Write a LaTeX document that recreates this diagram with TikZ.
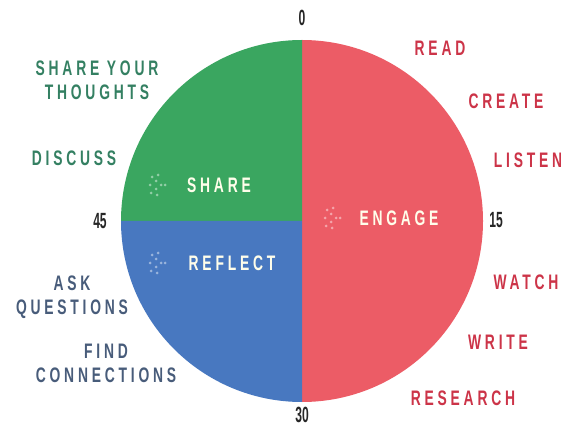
\documentclass[tikz,border=0pt]{standalone}
\usepackage{fontspec}
\setmainfont{Liberation Sans}[FakeStretch=0.55]
\newfontfamily\spacedfont{Liberation Sans}[FakeStretch=0.66,LetterSpace=18]
\definecolor{sharegreen}{RGB}{58,166,96}
\definecolor{engagered}{RGB}{236,92,102}
\definecolor{reflectblue}{RGB}{72,120,192}
\definecolor{sharetext}{RGB}{52,128,98}
\definecolor{engagetext}{RGB}{204,52,72}
\definecolor{reflecttext}{RGB}{72,92,122}
\tikzstyle{every node}=[inner sep=0pt,align=center]
\tikzstyle{label}=[font=\spacedfont\bfseries\fontsize{21}{24}\selectfont]
\tikzstyle{minute}=[font=\bfseries\fontsize{22}{22}\selectfont,text=black!85]
\tikzstyle{phase}=[label,text=white!92!yellow]
\tikzstyle{sparkdot}=[fill=white,opacity=0.45]

\begin{document}
\begin{tikzpicture}[x=1pt,y=1pt]
  \useasboundingbox (0,0) rectangle (561,428);
  \coordinate (centre) at (302,207);
  \fill[engagered] (centre) -- ++(0,181) arc[start angle=90,end angle=-90,radius=181] -- cycle;
  \fill[sharegreen] (centre) -- ++(0,181) arc[start angle=90,end angle=180,radius=181] -- cycle;
  \fill[reflectblue] (centre) -- ++(-181,0) arc[start angle=180,end angle=270,radius=181] -- cycle;

  \foreach \sx/\sy in {158/243,158/165,333/210}
    \foreach \dx/\dy in {-6/8,-7/-8,-2/4,3/0,-2/-4,-8/0,0/10,-1/-10,7/0}
      \fill[sparkdot] (\sx+\dx,\sy+\dy) circle (1.5);

  \node[phase] (share) at (219,243) {SHARE};
  \node[phase] (reflect) at (232,165) {REFLECT};
  \node[phase] (engage) at (399,210) {ENGAGE};

  \node[minute] (m0) at (302,410) {0};
  \node[minute] (m15) at (496,208) {15};
  \node[minute] (m30) at (302,13) {30};
  \node[minute] (m45) at (100,207) {45};

  \node[label,text=engagetext] (read) at (440,380) {READ};
  \node[label,text=engagetext] (create) at (506,327) {CREATE};
  \node[label,text=engagetext] (listen) at (528,268) {LISTEN};
  \node[label,text=engagetext] (watch) at (526,146) {WATCH};
  \node[label,text=engagetext] (write) at (498,86) {WRITE};
  \node[label,text=engagetext] (research) at (463,30) {RESEARCH};

  \node[label,text=sharetext] (thoughts) at (97,348) {SHARE YOUR\\THOUGHTS};
  \node[label,text=sharetext] (discuss) at (74,270) {DISCUSS};

  \node[label,text=reflecttext] (questions) at (72,131) {ASK\\QUESTIONS};
  \node[label,text=reflecttext] (connections) at (106,65) {FIND\\CONNECTIONS};
\end{tikzpicture}
\end{document}
